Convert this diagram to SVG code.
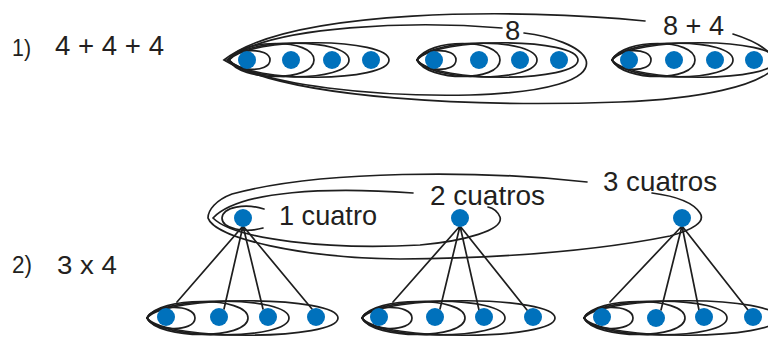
<svg xmlns="http://www.w3.org/2000/svg" width="768" height="338" viewBox="0 0 768 338">
<style>
.t{font-family:"Liberation Sans",Arial,sans-serif;fill:#231f20}
.l{fill:none;stroke:#1e1e1e;stroke-width:1.7;stroke-linecap:round}
.d{fill:#0071bc}
</style>
<defs>
<circle id="dot" r="9" class="d"/>
</defs>
<rect width="768" height="338" fill="#fff"/>
<g id="labels">
<text class="t" x="12" y="56" font-size="24" textLength="19" lengthAdjust="spacingAndGlyphs">1)</text>
<text class="t" x="55" y="55" font-size="27.5" textLength="109" lengthAdjust="spacingAndGlyphs">4 + 4 + 4</text>
<text class="t" x="12" y="273" font-size="23" textLength="20" lengthAdjust="spacingAndGlyphs">2)</text>
<text class="t" x="57" y="274" font-size="26" textLength="60" lengthAdjust="spacingAndGlyphs">3 x 4</text>
</g>
<g id="connectors" class="l">
<!-- row 1 group A -->
<path d="M229 60 C234 48,270 47,270 60 C270 73,234 72,229 60"/>
<path d="M229 60 C240 38,314 38,314 60 C314 82,240 82,229 60"/>
<path d="M229 60 C245 37,349 38,349 60 C349 82,245 83,229 60"/>
<path d="M229 60 C250 36,389 38,389 60 C389 82,250 84,229 60"/>
<!-- row 1 group B -->
<path d="M417 60 C422 48,456 47,456 60 C456 73,422 72,417 60"/>
<path d="M417 60 C428 38,500 38,500 60 C500 82,428 82,417 60"/>
<path d="M417 60 C433 37,537 38,537 60 C537 82,433 83,417 60"/>
<path d="M417 60 C438 36,578 38,578 60 C578 82,438 84,417 60"/>
<!-- row 1 group C -->
<path d="M612 60 C617 48,651 47,651 60 C651 73,617 72,612 60"/>
<path d="M612 60 C623 38,695 38,695 60 C695 82,623 82,612 60"/>
<path d="M612 60 C628 37,733 38,733 60 C733 82,628 83,612 60"/>
<path d="M612 60 C633 36,776 38,776 60 C776 82,633 84,612 60"/>
<!-- 8 loop -->
<path d="M502 28 C420 21,270 24,227 60 C262 86,380 97,470 95 C545 93,592 80,586 60 C581 46,550 36,524 33"/>
<!-- 8+4 loop -->
<path d="M645 21 C520 8,290 8,224 60 C290 100,480 107,620 102 C700 99,760 86,776 66"/>
<path d="M733 34 C752 40,766 48,772 56"/>
<!-- row 2 top loops -->
<path d="M264 209 C245 203,223 207,222 218 C222 229,245 233,263 228"/>
<path d="M413 193 C330 187,240 190,213 218 C235 240,330 250,420 245 C465 241,504 230,500 217 C497 210,493 208,488 207"/>
<path d="M587 182 C480 170,320 170,232 194 C216 200,208 210,208 218 C215 238,300 258,400 259 C520 258,610 248,670 236 C692 230,706 222,700 213 C693 202,675 196,652 193"/>
<!-- spokes -->
<path d="M243 226 L177 302 M243 226 L224 309 M243 226 L263 309 M243 226 L312 309"/>
<path d="M460 226 L393 302 M460 226 L440 309 M460 226 L479 310 M460 226 L527 310"/>
<path d="M682 226 L610 302 M682 226 L661 310 M682 226 L699 310 M682 226 L748 310"/>
<!-- row 2 bottom group 1 -->
<path d="M147 318 C152 305,195 303,195 318 C195 333,152 331,147 318"/>
<path d="M147 318 C158 296,248 296,248 318 C248 340,158 340,147 318"/>
<path d="M147 318 C163 295,289 296,289 318 C289 340,163 341,147 318"/>
<path d="M147 318 C168 294,338 296,338 318 C338 340,168 342,147 318"/>
<!-- row 2 bottom group 2 -->
<path d="M362 318 C367 305,412 303,412 318 C412 333,367 331,362 318"/>
<path d="M362 318 C373 296,465 296,465 318 C465 340,373 340,362 318"/>
<path d="M362 318 C378 295,505 296,505 318 C505 340,378 341,362 318"/>
<path d="M362 318 C383 294,555 296,555 318 C555 340,383 342,362 318"/>
<!-- row 2 bottom group 3 -->
<path d="M584 318 C589 305,633 303,633 318 C633 333,589 331,584 318"/>
<path d="M584 318 C595 296,685 296,685 318 C685 340,595 340,584 318"/>
<path d="M584 318 C600 295,727 296,727 318 C727 340,600 341,584 318"/>
<path d="M584 318 C605 294,778 296,778 318 C778 340,605 342,584 318"/>
</g>
<g id="row1-groupA">
<use href="#dot" x="247" y="60"/><use href="#dot" x="291" y="60"/><use href="#dot" x="332" y="60"/><use href="#dot" x="371" y="60"/>
</g>
<g id="row1-groupB">
<use href="#dot" x="434" y="60"/><use href="#dot" x="479" y="60"/><use href="#dot" x="520" y="60"/><use href="#dot" x="559" y="60"/>
</g>
<g id="row1-groupC">
<use href="#dot" x="629" y="60"/><use href="#dot" x="674" y="60"/><use href="#dot" x="715" y="60"/><use href="#dot" x="754" y="60"/>
</g>
<g id="label-8"><text class="t" x="505" y="40" font-size="27.5">8</text></g>
<g id="label-8plus4"><text class="t" x="663" y="35" font-size="27.5" textLength="61" lengthAdjust="spacingAndGlyphs">8 + 4</text></g>
<g id="top-dot-1"><use href="#dot" x="243" y="218"/><text class="t" x="279" y="225" font-size="27.5" textLength="98" lengthAdjust="spacingAndGlyphs">1 cuatro</text></g>
<g id="top-dot-2"><use href="#dot" x="460" y="218"/><text class="t" x="430" y="205" font-size="27.5" textLength="115" lengthAdjust="spacingAndGlyphs">2 cuatros</text></g>
<g id="top-dot-3"><use href="#dot" x="682" y="218"/><text class="t" x="603" y="191" font-size="27.5" textLength="114" lengthAdjust="spacingAndGlyphs">3 cuatros</text></g>
<g id="row2-groupA">
<use href="#dot" x="166" y="317"/><use href="#dot" x="219" y="317"/><use href="#dot" x="268" y="317"/><use href="#dot" x="316" y="317"/>
</g>
<g id="row2-groupB">
<use href="#dot" x="379" y="317"/><use href="#dot" x="435" y="317"/><use href="#dot" x="484" y="317"/><use href="#dot" x="533" y="317"/>
</g>
<g id="row2-groupC">
<use href="#dot" x="602" y="317"/><use href="#dot" x="656" y="318"/><use href="#dot" x="704" y="317"/><use href="#dot" x="753" y="317"/>
</g>
</svg>
